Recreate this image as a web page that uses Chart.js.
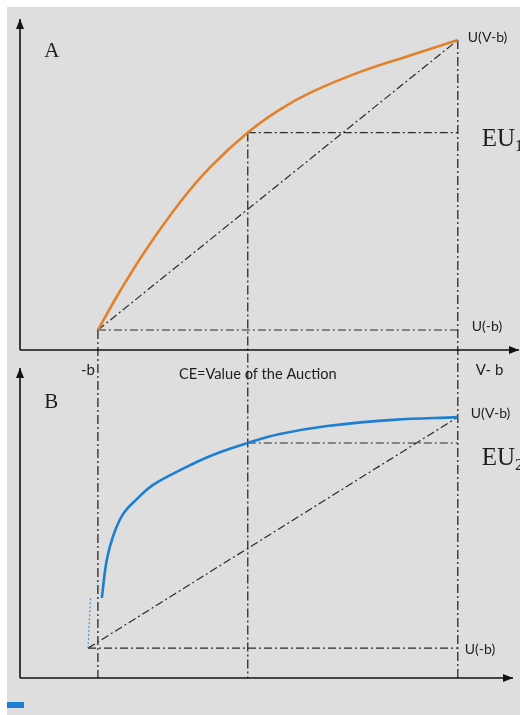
<!DOCTYPE html>
<html>
<head>
<meta charset="utf-8">
<script src="https://cdn.jsdelivr.net/npm/chart.js@4"></script>
<style>
  html, body { margin: 0; padding: 0; background: #fff; }
  #paper { position: absolute; left: 7px; top: 7px; width: 513px; height: 708px; background: #dedede; }
  #fig { position: absolute; left: 0; top: 0; }
</style>
</head>
<body>
<div id="paper"></div>
<canvas id="fig" width="520" height="715"></canvas>
<script>
// panel A: concave utility (orange)
var curveAX = [1.58, 2.03, 2.54, 3.25, 3.85, 4.62, 5.27, 5.88, 6.90, 7.91, 8.88];
var curveAY = [0.61, 1.80, 3.02, 4.51, 5.56, 6.63, 7.33, 7.84, 8.48, 8.98, 9.45];
// panel B: more concave utility (blue)
var curveBX = [1.66, 1.76, 1.89, 2.09, 2.37, 2.70, 3.25, 3.91, 4.62, 5.27, 6.23, 7.57, 8.88];
var curveBY = [2.60, 3.83, 4.61, 5.32, 5.81, 6.27, 6.75, 7.24, 7.63, 7.92, 8.18, 8.38, 8.47];

// wealth positions on the x axis: -b, CE, V-b
var wealthX = [1.58, 4.62, 8.88];
var wealthLabels = ["-b", "CE=Value of the Auction", "V- b"];
// utility levels: U(-b), EU, U(V-b)
var levelsA = [0.61, 6.63, 9.45];
var levelsB = [0.97, 7.63, 8.47];
var startBX = 1.38;

var negB = wealthX[0], ce = wealthX[1], vb = wealthX[2];

function pts(xs, ys) {
  var out = [];
  for (var i = 0; i < xs.length; i++) out.push({ x: xs[i], y: ys[i] });
  return out;
}

var dashDot = [8, 3, 2, 3];
var guideColor = "#2a2a2a";

function guide(data, axis) {
  return {
    data: data, yAxisID: axis, showLine: true, pointRadius: 0,
    borderColor: guideColor, borderWidth: 1.2, borderDash: dashDot, fill: false
  };
}

var datasets = [
  {
    data: pts(curveAX, curveAY), yAxisID: "yA", showLine: true, pointRadius: 0,
    borderColor: "#e3812b", borderWidth: 2.6, tension: 0.4
  },
  guide([{ x: negB, y: levelsA[0] }, { x: vb, y: levelsA[2] }], "yA"),
  guide([{ x: negB, y: levelsA[0] }, { x: vb, y: levelsA[0] }], "yA"),
  guide([{ x: ce, y: levelsA[1] }, { x: vb, y: levelsA[1] }], "yA"),
  {
    data: pts(curveBX, curveBY), yAxisID: "yB", showLine: true, pointRadius: 0,
    borderColor: "#1c7fd1", borderWidth: 2.6, tension: 0.4
  },
  {
    data: [{ x: startBX, y: levelsB[0] }, { x: 1.43, y: 2.6 }], yAxisID: "yB", showLine: true,
    pointRadius: 0, borderColor: "#4d8fcf", borderWidth: 1.2, borderDash: [2, 2]
  },
  guide([{ x: startBX, y: levelsB[0] }, { x: vb, y: levelsB[2] }], "yB"),
  guide([{ x: startBX, y: levelsB[0] }, { x: vb, y: levelsB[0] }], "yB"),
  guide([{ x: ce, y: levelsB[1] }, { x: vb, y: levelsB[1] }], "yB")
];

function arrowLine(ctx, x1, y1, x2, y2) {
  ctx.beginPath();
  ctx.moveTo(x1, y1);
  ctx.lineTo(x2, y2);
  ctx.stroke();
  var a = Math.atan2(y2 - y1, x2 - x1);
  ctx.beginPath();
  ctx.moveTo(x2, y2);
  ctx.lineTo(x2 - 10 * Math.cos(a) + 4 * Math.sin(a), y2 - 10 * Math.sin(a) - 4 * Math.cos(a));
  ctx.lineTo(x2 - 10 * Math.cos(a) - 4 * Math.sin(a), y2 - 10 * Math.sin(a) + 4 * Math.cos(a));
  ctx.closePath();
  ctx.fill();
}

var decor = {
  id: "decor",
  beforeDatasetsDraw: function (chart) {
    var ctx = chart.ctx, x = chart.scales.x, yA = chart.scales.yA, yB = chart.scales.yB;
    ctx.save();
    // vertical guides running through both panels
    ctx.strokeStyle = guideColor;
    ctx.lineWidth = 1.3;
    ctx.setLineDash([9, 3, 2, 3]);
    for (var i = 0; i < wealthX.length; i++) {
      ctx.beginPath();
      ctx.moveTo(x.getPixelForValue(wealthX[i]), yA.getPixelForValue(levelsA[i]));
      ctx.lineTo(x.getPixelForValue(wealthX[i]), yB.getPixelForValue(0));
      ctx.stroke();
    }
    ctx.setLineDash([]);
    // axes with arrows
    ctx.strokeStyle = "#111";
    ctx.fillStyle = "#111";
    ctx.lineWidth = 1.6;
    var x0 = x.getPixelForValue(0);
    arrowLine(ctx, x0, yA.getPixelForValue(0), x0, yA.getPixelForValue(10) - 3);
    arrowLine(ctx, x0, yA.getPixelForValue(0), x.getPixelForValue(10) + 6, yA.getPixelForValue(0));
    arrowLine(ctx, x0, yB.getPixelForValue(0), x0, yB.getPixelForValue(10) - 2);
    arrowLine(ctx, x0, yB.getPixelForValue(0), x.getPixelForValue(10), yB.getPixelForValue(0));
    ctx.restore();
  },
  afterDraw: function (chart) {
    var ctx = chart.ctx, x = chart.scales.x, yA = chart.scales.yA, yB = chart.scales.yB;
    var px = function (v) { return x.getPixelForValue(v); };
    ctx.save();
    ctx.fillStyle = "#1e1e1e";
    ctx.textBaseline = "alphabetic";
    ctx.font = "21px 'Liberation Serif', serif";
    ctx.fillText("A", px(0.49), yA.getPixelForValue(8.93));
    ctx.fillText("B", px(0.49), yB.getPixelForValue(8.77));

    ctx.font = "25px 'Liberation Serif', serif";
    var eux = px(vb) + 24;
    ctx.fillText("EU", eux, yA.getPixelForValue(levelsA[1]) + 13);
    ctx.fillText("EU", eux, yB.getPixelForValue(levelsB[1]) + 22);
    var w = ctx.measureText("EU").width;
    ctx.font = "16px 'Liberation Serif', serif";
    ctx.fillText("1", eux + w, yA.getPixelForValue(levelsA[1]) + 18);
    ctx.fillText("2", eux + w, yB.getPixelForValue(levelsB[1]) + 27);

    ctx.textBaseline = "middle";
    ctx.font = "14px Lato, sans-serif";
    ctx.fillText("U(V-b)", px(vb) + 10, yA.getPixelForValue(levelsA[2]) - 3);
    ctx.fillText("U(-b)", px(vb) + 14, yA.getPixelForValue(levelsA[0]) - 4);
    ctx.fillText("U(V-b)", px(vb) + 13, yB.getPixelForValue(levelsB[2]) - 4);
    ctx.fillText("U(-b)", px(vb) + 7, yB.getPixelForValue(levelsB[0]) + 1);

    ctx.font = "15px Lato, sans-serif";
    var axisY = yA.getPixelForValue(0);
    ctx.textAlign = "right";
    ctx.fillText(wealthLabels[0], px(negB) - 3, axisY + 20);
    ctx.textAlign = "left";
    ctx.fillText(wealthLabels[2], px(vb) + 18, axisY + 20);
    ctx.font = "14.6px Lato, sans-serif";
    ctx.textAlign = "center";
    ctx.fillText(wealthLabels[1], px(ce) + 10, axisY + 24);

    // blue fragment at the bottom edge
    ctx.fillStyle = "#1c7fd1";
    ctx.fillRect(7, 702, 17, 6);
    ctx.restore();
  }
};

new Chart("fig", {
  type: "scatter",
  data: { datasets: datasets },
  options: {
    responsive: false,
    animation: false,
    layout: { padding: { left: 20, right: 7, top: 22, bottom: 37 } },
    scales: {
      x: { type: "linear", min: 0, max: 10, display: false },
      yA: { type: "linear", min: -10, max: 10, display: false },
      yB: { type: "linear", min: 0, max: 21.3, display: false }
    },
    plugins: { legend: { display: false }, tooltip: { enabled: false } }
  },
  plugins: [decor]
});
</script>
</body>
</html>
